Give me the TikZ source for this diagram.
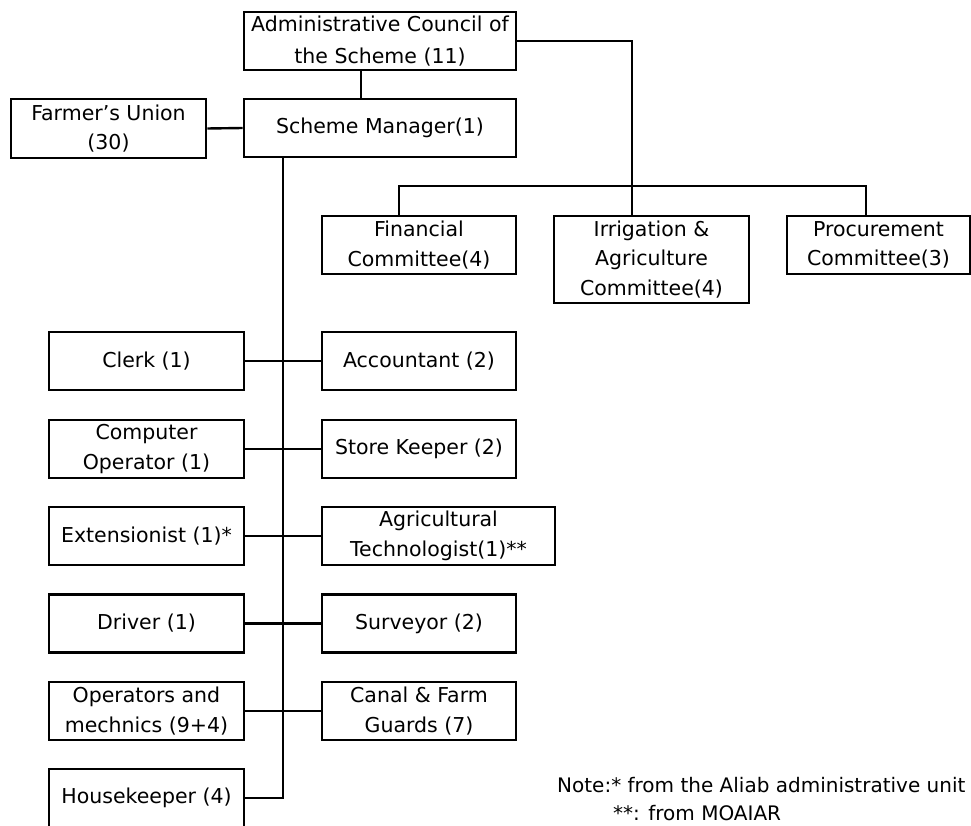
\documentclass[tikz,border=0pt]{standalone}
\usepackage{fontspec}
\setmainfont{DejaVu Sans}
\begin{document}
\begin{tikzpicture}[x=1pt,y=-1pt,
  box/.style={draw, line width=2.6pt, inner sep=0pt, align=center,
    minimum height=58pt, font=\fontsize{20.5}{29.5}\selectfont},
  lbox/.style={box, minimum width=195pt},
  rbox/.style={box, minimum width=194pt},
  link/.style={line width=2.4pt},
  notetext/.style={anchor=west, inner sep=0pt, font=\fontsize{20}{29}\selectfont}]
\useasboundingbox (0,0) rectangle (971,826);
\clip (0,0) rectangle (971,826);

% top level
\node[box, minimum width=272pt] (council) at (380,41) {Administrative Council of\\[3pt]the Scheme (11)};
\node[box, minimum width=272pt] (manager) at (380,128) {Scheme Manager(1)};
\node[box, minimum width=195pt, minimum height=59pt] (farmer) at (108.5,128.5) {Farmer's Union\\(30)};

% committees
\node[rbox] (fin) at (419,245) {Financial\\Committee(4)};
\node[box, minimum width=195pt, minimum height=87pt] (irrig) at (651.5,259.5) {Irrigation \&\\Agriculture\\Committee(4)};
\node[box, minimum width=183pt] (proc) at (878.5,245) {Procurement\\Committee(3)};

% staff rows
\node[lbox] (clerk) at (146.5,361) {Clerk (1)};
\node[rbox] (acct) at (419,361) {Accountant (2)};
\node[lbox] (comp) at (146.5,449) {Computer\\Operator (1)};
\node[rbox] (store) at (419,449) {Store Keeper (2)};
\node[lbox] (ext) at (146.5,536) {Extensionist (1)*};
\node[box, minimum width=233pt] (agri) at (438.5,536) {Agricultural\\Technologist(1)**};
\node[lbox] (driver) at (146.5,623.5) {Driver (1)};
\node[rbox] (surv) at (419,623.5) {Surveyor (2)};
\node[lbox] (oper) at (146.5,711) {Operators and\\mechnics (9+4)};
\node[rbox] (canal) at (419,711) {Canal \& Farm\\Guards (7)};
\node[lbox] (house) at (146.5,798) {Housekeeper (4)};

% note
\node[notetext] (note1) at (557,785) {Note:* from the Aliab administrative unit};
\node[notetext] (note2) at (613,813) {**: from MOAIAR};

% connectors
\coordinate (spine) at (283,0);
\coordinate (barL) at (399,186);
\coordinate (barR) at (866,186);
\coordinate (drop) at (632,41);

\draw[link] ([xshift=-19pt]council.south) -- ([xshift=-19pt]manager.north);
\draw[link] (farmer.east) -- (manager.west);
\draw[link] (council.east) -- (drop) -- (drop |- irrig.north);
\draw[link] (fin.north -| barL) -- (barL) -- (barR) -- (barR |- proc.north);
\draw[link] (manager.south -| spine) -- (house.east -| spine) -- (house.east);
\draw[link] (clerk) -- (acct);
\draw[link] (comp) -- (store);
\draw[link] (ext) -- (agri);
\draw[link] (driver) -- (surv);
\draw[link] (oper) -- (canal);
\end{tikzpicture}
\end{document}
